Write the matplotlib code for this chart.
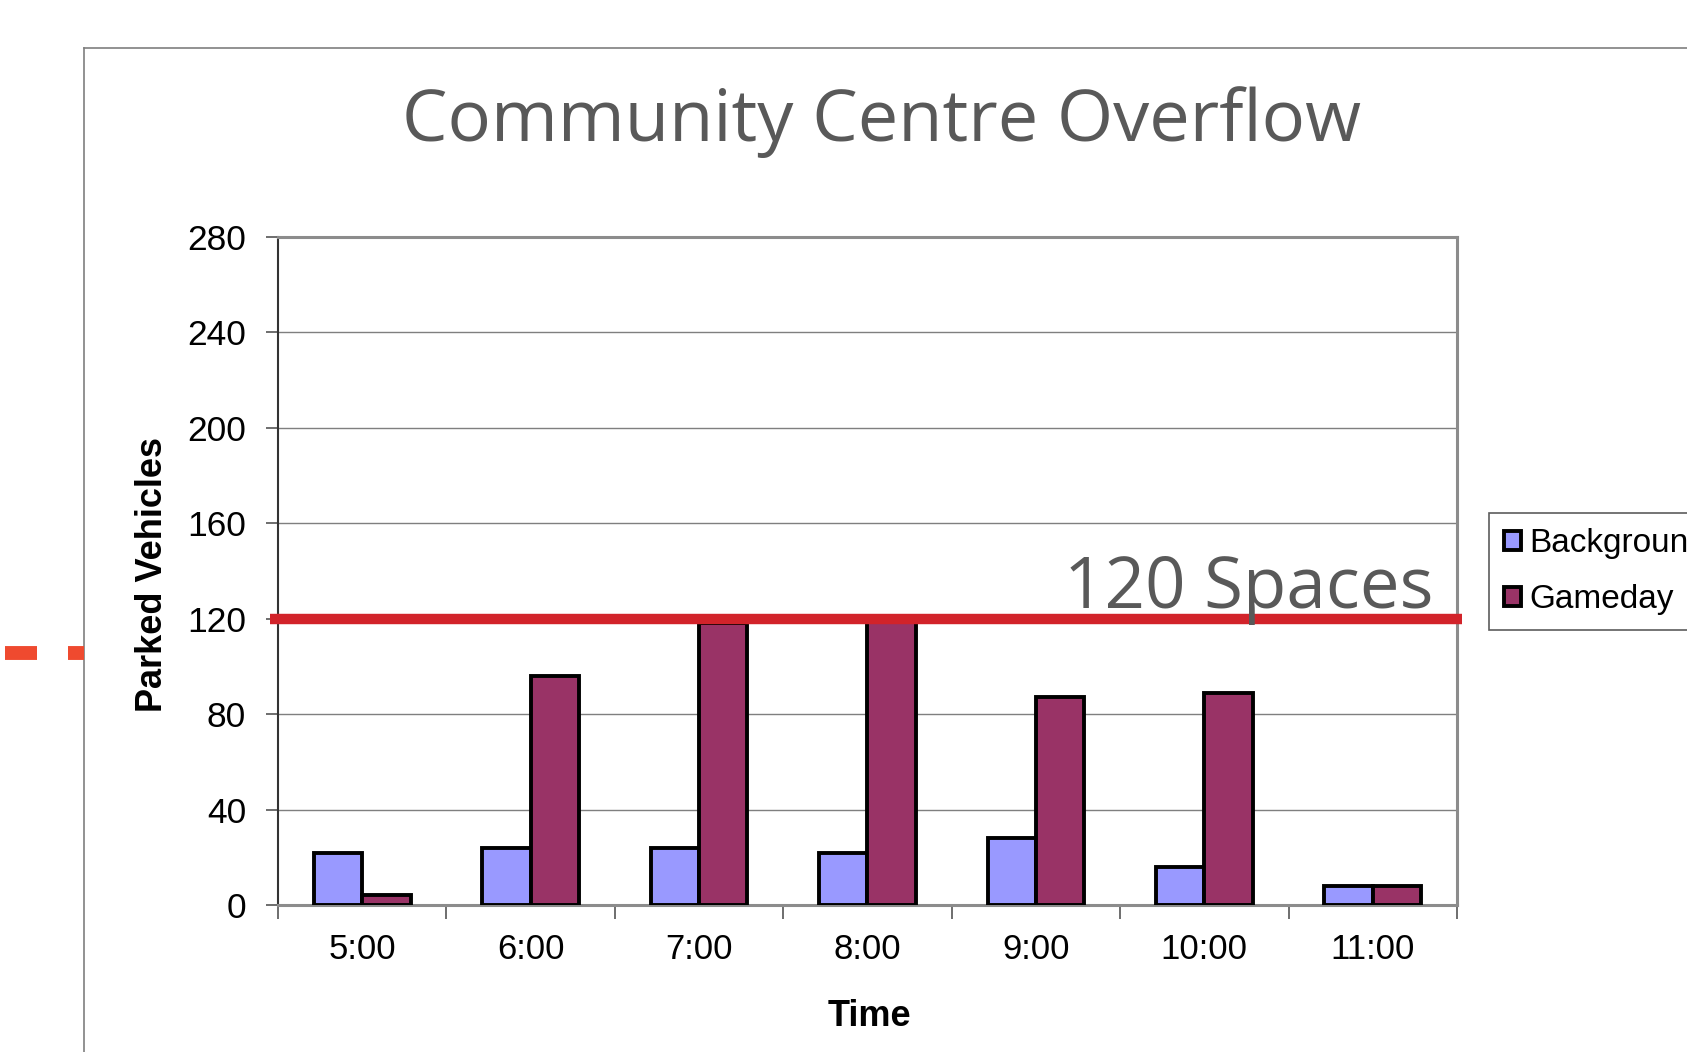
import matplotlib
matplotlib.use("Agg")
import matplotlib.pyplot as plt
from matplotlib.lines import Line2D
import numpy as np

categories = ["5:00", "6:00", "7:00", "8:00", "9:00", "10:00", "11:00"]
background = [22, 24, 24, 22, 28, 16, 8]
gameday = [4, 96, 118, 120, 87, 89, 8]
capacity = 120
yticks = [0, 40, 80, 120, 160, 200, 240, 280]

W, H = 1687, 1052
fig = plt.figure(figsize=(W / 100, H / 100), dpi=100)
fig.patch.set_facecolor("white")

# outer frame lines
fig.add_artist(Line2D([84 / W, 84 / W], [0, 1 - 48 / H], color="#7f7f7f", lw=1.2))
fig.add_artist(Line2D([84 / W, 1], [1 - 48 / H, 1 - 48 / H], color="#7f7f7f", lw=1.2))
# red dashed fragment at left
for x0, x1 in [(5, 37), (68, 84)]:
    fig.add_artist(Line2D([x0 / W, x1 / W], [1 - 653 / H] * 2, color="#ef4a2f", lw=10, solid_capstyle="butt"))

ax = fig.add_axes([278 / W, 147 / H, (1457 - 278) / W, (905 - 237) / H])
x = np.arange(len(categories))
w = 0.2875
b1 = ax.bar(x - w / 2, background, w, color="#9999ff", edgecolor="black", lw=2.8, label="Background", zorder=3)
b2 = ax.bar(x + w / 2, gameday, w, color="#993366", edgecolor="black", lw=2.8, label="Gameday", zorder=3)

ax.set_xlim(-0.5, len(categories) - 0.5)
ax.set_ylim(0, 280)
ax.set_yticks(yticks)
ax.set_yticklabels([str(t) for t in yticks], fontsize=25.5, family="Liberation Sans")
ax.set_xticks(np.arange(-0.5, len(categories), 1.0))
ax.set_xticklabels([])
ax.set_xticks(x, minor=True)
ax.set_xticklabels(categories, minor=True, fontsize=25, family="Liberation Sans")
ax.tick_params(axis="x", which="minor", length=0, pad=20)
ax.tick_params(axis="x", which="major", length=10, width=1.2, color="#555555", direction="out")
ax.tick_params(axis="y", length=9, width=1.2, color="#555555", direction="out", pad=14)
ax.grid(axis="y", color="#7f7f7f", lw=1.0, zorder=0)
ax.set_axisbelow(True)
for s in ["top", "right", "bottom"]:
    ax.spines[s].set_color("#8c8c8c")
    ax.spines[s].set_linewidth(2.2)
ax.spines["left"].set_color("#333333")
ax.spines["left"].set_linewidth(1.5)

ax.axhline(capacity, xmin=-0.0065, xmax=1.004, color="#d2232a", lw=7.5, clip_on=False,
           zorder=5, solid_capstyle="butt")

ax.set_xlabel("Time", fontsize=26, fontweight="bold", family="Liberation Sans")
ax.set_ylabel("Parked Vehicles", fontsize=26, fontweight="bold", family="Liberation Sans")
ax.xaxis.set_label_coords((869 - 278) / (1457 - 278), -(999 - 905) / (905 - 237))
ax.yaxis.set_label_coords(-(278 - 170) / (1457 - 278), (905 - 575) / (905 - 237))

fig.text(882 / W, 1 - 122 / H, "Community Centre Overflow", fontsize=52, color="#595959",
         family="Open Sans", ha="center", va="center")
fig.text(1433 / W, 1 - 608 / H, f"{capacity} Spaces", fontsize=51, color="#595959",
         family="Open Sans", ha="right", va="baseline")

leg = fig.legend(handles=[b1, b2], labels=["Background", "Gameday"], loc="upper left",
                 bbox_to_anchor=(1489 / W, 1 - 513 / H), frameon=True, fancybox=False,
                 prop={"family": "Liberation Sans", "size": 24}, handlelength=0.5, handleheight=0.5,
                 handletextpad=0.25, labelspacing=0.75, borderpad=0.45, borderaxespad=0)
leg.get_frame().set_edgecolor("#333333")
leg.get_frame().set_linewidth(1.2)

fig.savefig("out.png", dpi=100)
